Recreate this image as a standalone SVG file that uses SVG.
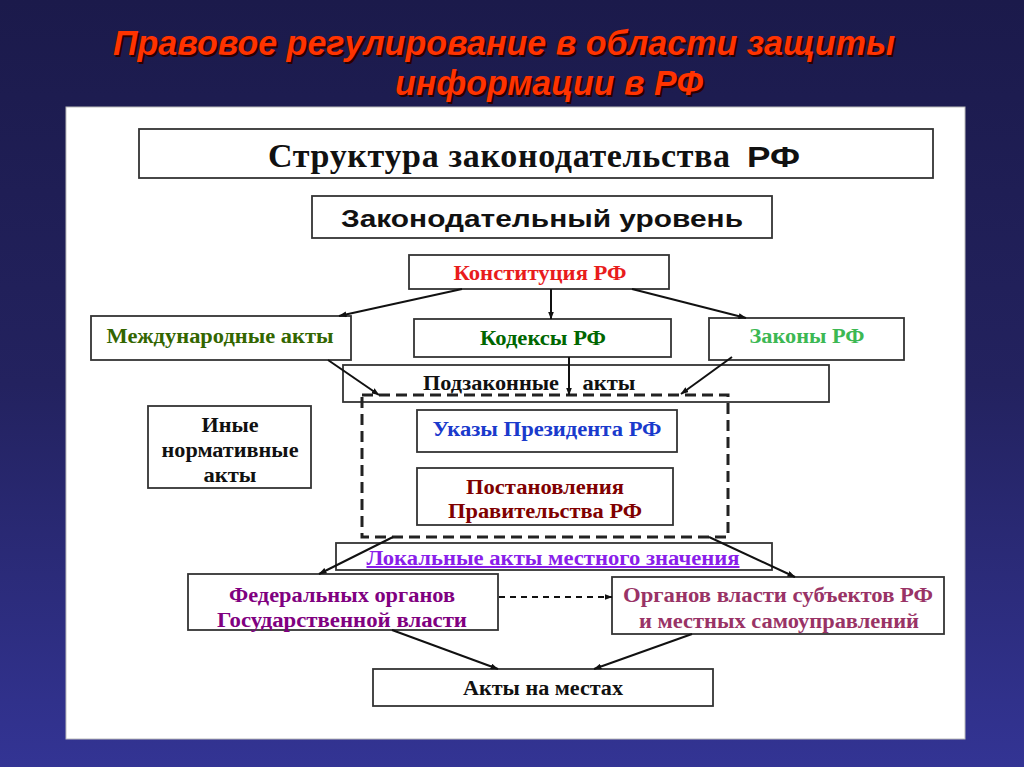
<svg xmlns="http://www.w3.org/2000/svg" width="1024" height="767" viewBox="0 0 1024 767">
<defs>
<linearGradient id="bg" x1="0" y1="0" x2="0" y2="1">
<stop offset="0" stop-color="#1b1a4b"/>
<stop offset="0.5" stop-color="#23225f"/>
<stop offset="1" stop-color="#333494"/>
</linearGradient>
<marker id="ah" markerWidth="8" markerHeight="6" refX="7.5" refY="3" orient="auto" markerUnits="userSpaceOnUse">
<path d="M0,0 L8,3 L0,6 z" fill="#111"/>
</marker>
<style>
.box{fill:#fff;stroke:#333;stroke-width:1.8}
.t{font-family:"Liberation Serif","Times New Roman",serif;font-weight:bold;font-size:20px;text-anchor:middle}
.big{font-family:"Liberation Serif",serif;font-weight:bold;font-size:34px}
.s{font-family:"Liberation Sans",Arial,sans-serif;font-weight:bold}
.ttl{font-family:"Liberation Sans",Arial,sans-serif;font-weight:bold;font-style:italic;font-size:35px}
.c{fill:none;stroke:#111;stroke-width:2;marker-end:url(#ah)}
</style>
</defs>
<rect x="0" y="0" width="1024" height="767" fill="url(#bg)"/>
<g id="title">
<text class="ttl" x="115" y="57" fill="#2a0000" textLength="782" lengthAdjust="spacingAndGlyphs">Правовое регулирование в области защиты</text>
<text class="ttl" x="113" y="55" fill="#ff3300" textLength="782" lengthAdjust="spacingAndGlyphs">Правовое регулирование в области защиты</text>
<text class="ttl" x="397" y="97" fill="#2a0000" textLength="308" lengthAdjust="spacingAndGlyphs">информации в РФ</text>
<text class="ttl" x="395" y="95" fill="#ff3300" textLength="308" lengthAdjust="spacingAndGlyphs">информации в РФ</text>
</g>
<rect id="panel" x="66" y="107" width="899" height="632" fill="#fff" stroke="#bbb" stroke-width="1"/>
<g id="n-structure">
<rect class="box" x="139" y="129" width="794" height="49"/>
<text class="big" x="268" y="167" fill="#111" textLength="462" lengthAdjust="spacing">Структура законодательства</text>
<text class="s" x="747" y="167" font-size="30" textLength="53" lengthAdjust="spacingAndGlyphs" fill="#111">РФ</text>
</g>
<g id="n-level">
<rect class="box" x="312" y="196" width="460" height="42"/>
<text class="s" x="341" y="227" font-size="24" textLength="402" lengthAdjust="spacingAndGlyphs" fill="#111">Законодательный уровень</text>
</g>
<g id="n-const">
<rect class="box" x="409" y="255" width="260" height="34"/>
<text class="t" x="540" y="280" fill="#e81c1c" textLength="173" lengthAdjust="spacingAndGlyphs">Конституция РФ</text>
</g>
<g id="n-intl">
<rect class="box" x="91" y="316" width="260" height="44"/>
<text class="t" x="220" y="343" fill="#336600" textLength="227" lengthAdjust="spacingAndGlyphs">Международные акты</text>
</g>
<g id="n-codes">
<rect class="box" x="414" y="319" width="257" height="38"/>
<text class="t" x="543" y="345" fill="#006600" textLength="126" lengthAdjust="spacingAndGlyphs">Кодексы РФ</text>
</g>
<g id="n-laws">
<rect class="box" x="709" y="318" width="195" height="42"/>
<text class="t" x="807" y="343" fill="#3cb853" textLength="115" lengthAdjust="spacingAndGlyphs">Законы РФ</text>
</g>
<g id="n-sublaws">
<rect class="box" x="343" y="365" width="486" height="37"/>
<text class="t" x="491" y="390" fill="#111" textLength="136" lengthAdjust="spacingAndGlyphs">Подзаконные</text>
<text class="t" x="609" y="390" fill="#111" textLength="53" lengthAdjust="spacingAndGlyphs">акты</text>
</g>
<g id="n-group">
<rect x="362" y="395" width="366" height="142" fill="none" stroke="#222" stroke-width="3" stroke-dasharray="11,6"/>
</g>
<g id="n-other">
<rect class="box" x="148" y="406" width="163" height="82"/>
<text class="t" x="230" y="432" fill="#111" textLength="57" lengthAdjust="spacingAndGlyphs">Иные</text>
<text class="t" x="230" y="457" fill="#111" textLength="137" lengthAdjust="spacingAndGlyphs">нормативные</text>
<text class="t" x="230" y="482" fill="#111" textLength="53" lengthAdjust="spacingAndGlyphs">акты</text>
</g>
<g id="n-decrees">
<rect class="box" x="417" y="410" width="260" height="42"/>
<text class="t" x="547" y="436" fill="#1a3acc" textLength="229" lengthAdjust="spacingAndGlyphs">Указы Президента РФ</text>
</g>
<g id="n-resolutions">
<rect class="box" x="417" y="468" width="256" height="57"/>
<text class="t" x="545" y="494" fill="#800000" textLength="158" lengthAdjust="spacingAndGlyphs">Постановления</text>
<text class="t" x="545" y="518" fill="#800000" textLength="194" lengthAdjust="spacingAndGlyphs">Правительства РФ</text>
</g>
<g id="n-local">
<rect class="box" x="336" y="543" width="436" height="27"/>
<text class="t" x="553" y="565" fill="#8a1eea" text-decoration="underline" textLength="373" lengthAdjust="spacingAndGlyphs">Локальные акты местного значения</text>
</g>
<g id="n-federal">
<rect class="box" x="188" y="574" width="310" height="56"/>
<text class="t" x="342" y="602" fill="#800080" textLength="226" lengthAdjust="spacingAndGlyphs">Федеральных органов</text>
<text class="t" x="342" y="627" fill="#800080" textLength="250" lengthAdjust="spacingAndGlyphs">Государственной власти</text>
</g>
<g id="n-regional">
<rect class="box" x="612" y="577" width="332" height="57"/>
<text class="t" x="778" y="602" fill="#993366" textLength="310" lengthAdjust="spacingAndGlyphs">Органов власти субъектов РФ</text>
<text class="t" x="779" y="628" fill="#993366" textLength="280" lengthAdjust="spacingAndGlyphs">и местных самоуправлений</text>
</g>
<g id="n-acts">
<rect class="box" x="373" y="669" width="340" height="37"/>
<text class="t" x="543" y="695" fill="#111" textLength="160" lengthAdjust="spacingAndGlyphs">Акты на местах</text>
</g>
<g id="connectors">
<line class="c" x1="462" y1="289" x2="339" y2="316"/>
<line class="c" x1="551" y1="289" x2="551" y2="319"/>
<line class="c" x1="632" y1="289" x2="746" y2="318"/>
<line class="c" x1="328" y1="360" x2="379" y2="395"/>
<line class="c" x1="569" y1="357" x2="569" y2="395"/>
<line class="c" x1="732" y1="357" x2="681" y2="394"/>
<line class="c" x1="393" y1="537" x2="319" y2="574"/>
<line class="c" x1="709" y1="537" x2="795" y2="577"/>
<line class="c" x1="392" y1="630" x2="498" y2="669"/>
<line class="c" x1="692" y1="634" x2="594" y2="669"/>
<line class="c" x1="499" y1="597" x2="612" y2="597" stroke-dasharray="6,5"/>
</g>
</svg>
